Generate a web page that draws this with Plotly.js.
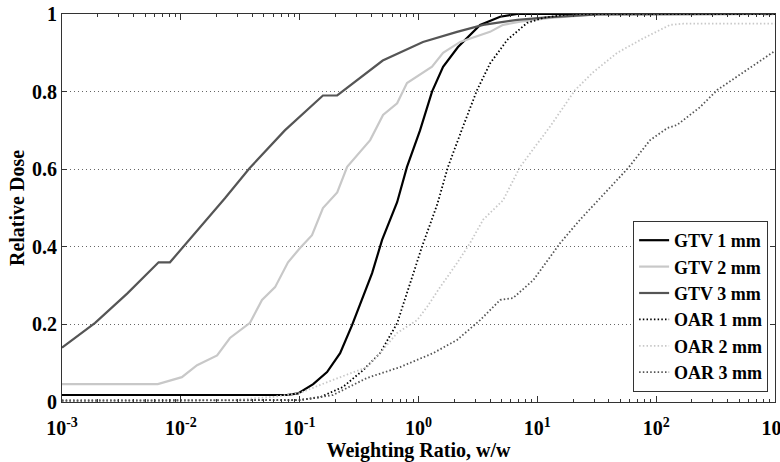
<!DOCTYPE html>
<html>
<head>
<meta charset="utf-8">
<script src="https://cdn.plot.ly/plotly-3.0.1.min.js"></script>
<style>html,body{margin:0;padding:0;background:#fff;}#chart{width:780px;height:462px;}</style>
</head>
<body>
<div id="chart"></div>
<script>
// Weighting ratio (w/w) and relative dose for each curve
const gtv1W = [0.001, 0.078, 0.097, 0.13, 0.17, 0.219, 0.276, 0.322, 0.407, 0.494, 0.661, 0.80, 1.03, 1.30, 1.61, 2.15, 3.30, 4.86, 6.76, 1000];
const gtv1D = [0.018, 0.018, 0.022, 0.046, 0.077, 0.126, 0.198, 0.25, 0.332, 0.418, 0.515, 0.606, 0.70, 0.80, 0.864, 0.915, 0.972, 0.993, 1.0, 1.0];

const gtv2W = [0.001, 0.0064, 0.0102, 0.0137, 0.0202, 0.0259, 0.0382, 0.0482, 0.0621, 0.0798, 0.1007, 0.127, 0.157, 0.207, 0.251, 0.392, 0.503, 0.661, 0.80, 1.30, 1.61, 2.24, 4.0, 5.15, 7.16, 12.8, 32, 1000];
const gtv2D = [0.046, 0.046, 0.064, 0.095, 0.12, 0.165, 0.204, 0.263, 0.296, 0.36, 0.397, 0.43, 0.5, 0.54, 0.606, 0.675, 0.74, 0.77, 0.822, 0.864, 0.9, 0.928, 0.954, 0.972, 0.98, 0.99, 0.999, 1.0];

const gtv3W = [0.001, 0.0019, 0.00355, 0.0065, 0.0081, 0.0105, 0.014, 0.0235, 0.038, 0.075, 0.157, 0.207, 0.50, 1.09, 2.11, 3.5, 6.8, 12.8, 32, 1000];
const gtv3D = [0.14, 0.204, 0.28, 0.36, 0.36, 0.40, 0.443, 0.525, 0.603, 0.70, 0.79, 0.79, 0.88, 0.928, 0.954, 0.972, 0.985, 0.992, 0.999, 1.0];

const oar1W = [0.001, 0.1, 0.148, 0.232, 0.342, 0.475, 0.661, 0.849, 1.07, 1.44, 1.77, 2.37, 3.11, 4.01, 5.57, 8.2, 11.2, 18.9, 1000];
const oar1D = [0.004, 0.005, 0.012, 0.039, 0.082, 0.126, 0.203, 0.307, 0.4, 0.51, 0.606, 0.71, 0.804, 0.873, 0.933, 0.977, 0.99, 1.0, 1.0];

const oar2W = [0.001, 0.026, 0.0597, 0.1, 0.191, 0.369, 0.475, 0.661, 0.973, 1.18, 1.52, 2.11, 2.72, 3.5, 5.15, 7.16, 12.8, 20.8, 29.5, 47.0, 77.6, 131, 169, 1000];
const oar2D = [0.003, 0.005, 0.013, 0.023, 0.057, 0.09, 0.126, 0.178, 0.211, 0.245, 0.296, 0.358, 0.41, 0.47, 0.52, 0.606, 0.71, 0.804, 0.85, 0.9, 0.937, 0.972, 0.975, 0.975];

const oar3W = [0.001, 0.0465, 0.1, 0.191, 0.369, 0.70, 1.33, 2.11, 3.30, 4.86, 6.25, 9.23, 15.6, 22.9, 32.5, 58.1, 88.9, 124, 150, 234, 326, 540, 1000];
const oar3D = [0.003, 0.004, 0.005, 0.018, 0.062, 0.09, 0.126, 0.16, 0.211, 0.263, 0.268, 0.314, 0.41, 0.47, 0.52, 0.603, 0.675, 0.706, 0.714, 0.76, 0.804, 0.85, 0.905];

const seriesNames = ['GTV 1 mm', 'GTV 2 mm', 'GTV 3 mm', 'OAR 1 mm', 'OAR 2 mm', 'OAR 3 mm'];
const xTickVals = [0.001, 0.01, 0.1, 1, 10, 100, 1000];
const xTickText = ['10<sup>-3</sup>', '10<sup>-2</sup>', '10<sup>-1</sup>', '10<sup>0</sup>', '10<sup>1</sup>', '10<sup>2</sup>', '10<sup>3</sup>'];
const yTickVals = [0, 0.2, 0.4, 0.6, 0.8, 1];
const yTickText = ['0', '0.2', '0.4', '0.6', '0.8', '1'];

const FONT = '"Liberation Serif", "Times New Roman", serif';
const DOT = '1.5px,2.2px';

const traces = [
  {x: gtv1W, y: gtv1D, name: seriesNames[0], line: {color: '#000000', width: 2.2}},
  {x: gtv2W, y: gtv2D, name: seriesNames[1], line: {color: '#c8c8c8', width: 2.2}},
  {x: gtv3W, y: gtv3D, name: seriesNames[2], line: {color: '#555555', width: 2.2}},
  {x: oar1W, y: oar1D, name: seriesNames[3], line: {color: '#000000', width: 1.8, dash: DOT}},
  {x: oar2W, y: oar2D, name: seriesNames[4], line: {color: '#c8c8c8', width: 1.8, dash: DOT}},
  {x: oar3W, y: oar3D, name: seriesNames[5], line: {color: '#555555', width: 1.8, dash: DOT}}
].map(t => Object.assign({type: 'scatter', mode: 'lines', hoverinfo: 'skip'}, t));

const layout = {
  width: 780, height: 462,
  margin: {l: 62, r: 5, t: 14, b: 60},
  paper_bgcolor: '#ffffff', plot_bgcolor: '#ffffff',
  font: {family: FONT, size: 18, color: '#000', weight: 700},
  showlegend: true,
  legend: {
    x: 0.801, y: 0.4665, xanchor: 'left', yanchor: 'top',
    bgcolor: '#ffffff', bordercolor: '#333333', borderwidth: 1,
    font: {family: FONT, size: 18, color: '#000', weight: 700}
  },
  xaxis: {
    type: 'log', range: [-3, 3],
    tickmode: 'array', tickvals: xTickVals, ticktext: xTickText,
    ticks: 'inside', ticklen: 6, tickcolor: '#333', tickwidth: 1,
    minor: {dtick: 'D1', ticks: 'inside', ticklen: 3, tickcolor: '#333', showgrid: false},
    showline: true, linecolor: '#333', linewidth: 1, mirror: 'ticks',
    showgrid: false, zeroline: false,
    ticklabeloverflow: 'allow', ticklabelstandoff: 8,
    tickfont: {family: FONT, size: 20, color: '#000', weight: 700},
    title: {text: 'Weighting Ratio, w/w', font: {family: FONT, size: 20, color: '#000', weight: 700}, standoff: 4}
  },
  yaxis: {
    range: [0, 1],
    tickmode: 'array', tickvals: yTickVals, ticktext: yTickText,
    ticks: 'inside', ticklen: 5, tickcolor: '#333', tickwidth: 1,
    showline: true, linecolor: '#333', linewidth: 1, mirror: 'ticks',
    showgrid: true, gridcolor: '#666', griddash: '1px,3px', gridwidth: 1,
    zeroline: false,
    tickfont: {family: FONT, size: 20, color: '#000', weight: 700},
    title: {text: 'Relative Dose', font: {family: FONT, size: 20, color: '#000', weight: 700}, standoff: 2}
  }
};

Plotly.newPlot('chart', traces, layout, {displayModeBar: false, staticPlot: true});
</script>
</body>
</html>
